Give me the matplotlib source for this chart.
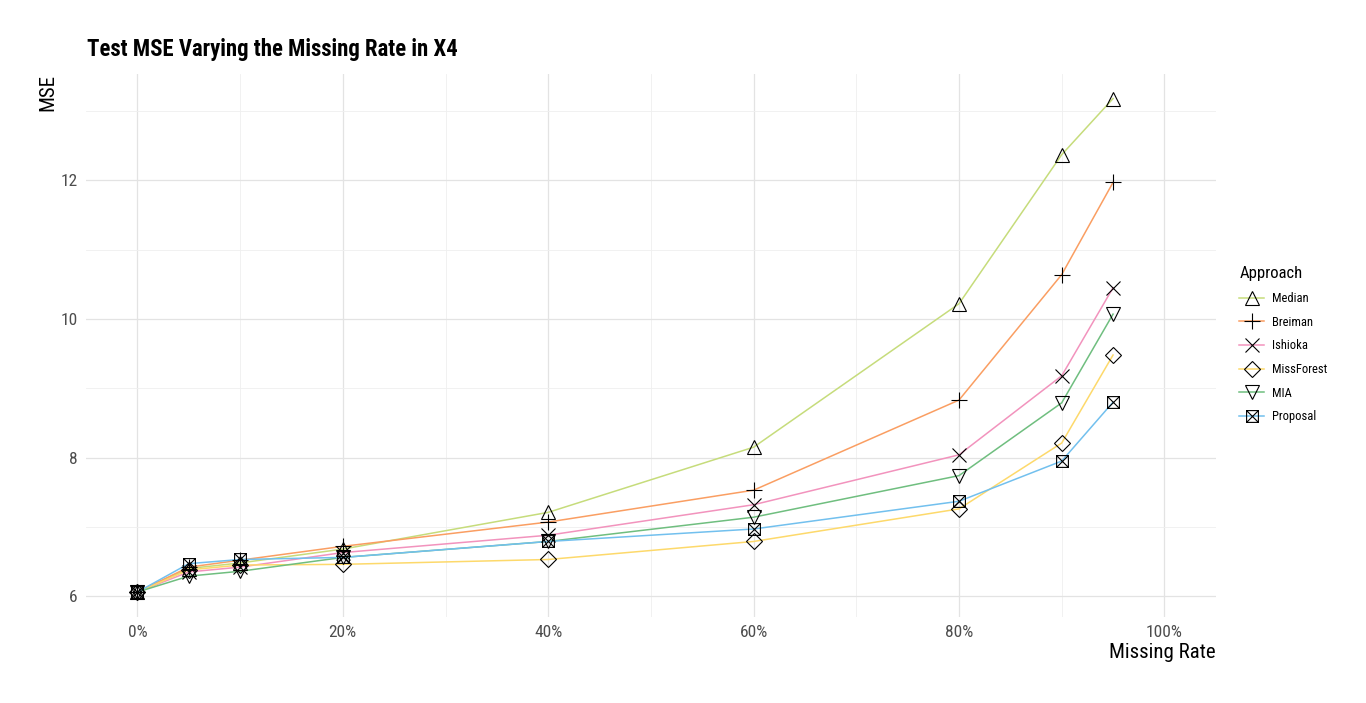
import matplotlib
matplotlib.use("Agg")
import matplotlib.pyplot as plt
from matplotlib.path import Path
from matplotlib.lines import Line2D
from matplotlib.ticker import FixedLocator, FuncFormatter

plt.rcParams['font.family'] = ['Roboto Condensed', 'Liberation Sans', 'DejaVu Sans']

rates = [0, 5, 10, 20, 40, 60, 80, 90, 95]
approaches = ["Median", "Breiman", "Ishioka", "MissForest", "MIA", "Proposal"]
median = [6.06, 6.40, 6.48, 6.68, 7.21, 8.15, 10.22, 12.37, 13.18]
breiman = [6.06, 6.42, 6.52, 6.72, 7.07, 7.53, 8.83, 10.64, 11.97]
ishioka = [6.06, 6.35, 6.42, 6.63, 6.88, 7.32, 8.04, 9.18, 10.45]
missforest = [6.06, 6.38, 6.45, 6.46, 6.53, 6.79, 7.26, 8.21, 9.48]
mia = [6.06, 6.29, 6.36, 6.56, 6.79, 7.14, 7.74, 8.79, 10.07]
proposal = [6.06, 6.47, 6.53, 6.56, 6.79, 6.97, 7.37, 7.95, 8.80]
series = [median, breiman, ishioka, missforest, mia, proposal]
x_ticks = [0, 20, 40, 60, 80, 100]
y_ticks = [6, 8, 10, 12]

colors = ["#c6dc7b", "#fa9e62", "#f293bd", "#fdd96b", "#6fbe7f", "#72c0ee"]

sqx = Path([(-1, -1), (1, -1), (1, 1), (-1, 1), (-1, -1), (-1, -1), (1, 1), (-1, 1), (1, -1)],
           [Path.MOVETO, Path.LINETO, Path.LINETO, Path.LINETO, Path.CLOSEPOLY,
            Path.MOVETO, Path.LINETO, Path.MOVETO, Path.LINETO])
markers = ["^", "+", "x", "D", "v", sqx]
msizes = [10, 12, 10, 8.5, 10, 8.5]

fig = plt.figure(figsize=(13.66, 7.03), dpi=100)
ax = fig.add_axes([0.063, 0.1223, 0.827, 0.773])

for ys, c in zip(series, colors):
    ax.plot(rates, ys, color=c, lw=1.1, zorder=2)
for ys, m, ms in zip(series, markers, msizes):
    ax.plot(rates, ys, ls='none', marker=m, ms=ms, mfc='none', mec='black', mew=0.8, zorder=3)

ax.set_xlim(-5, 105)
ax.set_ylim(5.70, 13.54)
ax.xaxis.set_major_locator(FixedLocator(x_ticks))
ax.xaxis.set_minor_locator(FixedLocator([10, 30, 50, 70, 90]))
ax.yaxis.set_major_locator(FixedLocator(y_ticks))
ax.yaxis.set_minor_locator(FixedLocator([7, 9, 11, 13]))
ax.xaxis.set_major_formatter(FuncFormatter(lambda v, p: f"{int(v)}%"))
ax.grid(which='major', color='#e3e3e3', lw=0.9, zorder=0)
ax.grid(which='minor', color='#efefef', lw=0.6, zorder=0)
for s in ax.spines.values():
    s.set_visible(False)
ax.tick_params(which='both', length=0, labelsize=12.5, labelcolor='#4d4d4d', pad=6)

ax.set_xlabel("Missing Rate", fontsize=15, loc='right', labelpad=2)
ax.set_ylabel("MSE", fontsize=15, loc='top', labelpad=2)
fig.text(0.0637, 0.920, "Test MSE Varying the Missing Rate in X4", fontsize=16.4,
         fontweight='bold', ha='left', va='baseline')

handles = [Line2D([], [], color=c, lw=1.1, marker=m, ms=ms, mfc='none', mec='black', mew=0.8)
           for c, m, ms in zip(colors, markers, msizes)]
leg = fig.legend(handles, approaches, title="Approach", loc='upper left',
                 bbox_to_anchor=(0.899, 0.637), frameon=False, fontsize=9,
                 title_fontsize=12, handlelength=2.0, labelspacing=0.85,
                 handletextpad=0.6, alignment='left')

fig.savefig("out.png", dpi=100)
